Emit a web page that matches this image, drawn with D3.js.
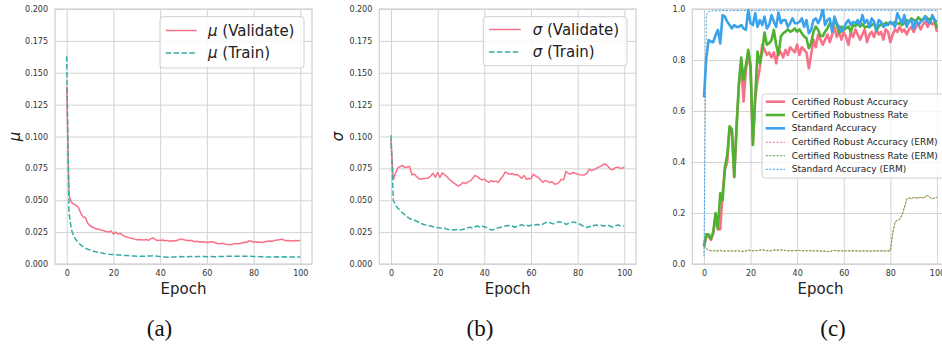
<!DOCTYPE html>
<html>
<head>
<meta charset="utf-8">
<script src="https://cdn.jsdelivr.net/npm/d3@7"></script>
<style>
  body { margin: 0; background: #fff; }
  text { font-family: "DejaVu Sans", sans-serif; }
</style>
</head>
<body>
<svg width="942" height="345"></svg>
<script>
// ---- data ----
const epochs = d3.range(0, 101);
const xTicks = [0, 20, 40, 60, 80, 100];
const smallTicks = [0, 0.025, 0.05, 0.075, 0.1, 0.125, 0.15, 0.175, 0.2];
const accTicks = [0, 0.2, 0.4, 0.6, 0.8, 1.0];

const muValidate = [0.139, 0.054, 0.0485, 0.047, 0.046, 0.0445, 0.040, 0.037, 0.0365, 0.032,
  0.030, 0.029, 0.028, 0.0275, 0.027, 0.0265, 0.026, 0.0255, 0.025, 0.026,
  0.0235, 0.025, 0.0235, 0.024, 0.0225, 0.0215, 0.021, 0.0205, 0.020, 0.0195,
  0.019, 0.0192, 0.019, 0.0188, 0.0192, 0.0185, 0.0198, 0.0205, 0.019, 0.0185,
  0.0187, 0.0188, 0.0182, 0.0185, 0.0178, 0.0183, 0.018, 0.0185, 0.019, 0.0197,
  0.019, 0.0188, 0.0183, 0.0186, 0.018, 0.0175, 0.0178, 0.017, 0.0175, 0.0172,
  0.0168, 0.0172, 0.0175, 0.017, 0.0165, 0.0158, 0.016, 0.0162, 0.0155, 0.0152,
  0.015, 0.0155, 0.016, 0.0158, 0.016, 0.0165, 0.017, 0.0168, 0.0182, 0.0178,
  0.0172, 0.0175, 0.017, 0.0172, 0.0168, 0.0175, 0.0178, 0.018, 0.0178, 0.0185,
  0.0188, 0.019, 0.0195, 0.0188, 0.0182, 0.0185, 0.018, 0.0183, 0.0185, 0.0182, 0.0185];
const muTrain = [0.163, 0.040, 0.027, 0.022, 0.019, 0.0165, 0.015, 0.0135, 0.0125, 0.0115,
  0.011, 0.0103, 0.0098, 0.0093, 0.009, 0.0086, 0.0082, 0.008, 0.0077, 0.0075,
  0.0074, 0.0073, 0.0071, 0.007, 0.0068, 0.0067, 0.0066, 0.0064, 0.0063, 0.0062,
  0.0061, 0.0062, 0.006, 0.006, 0.0061, 0.0063, 0.0062, 0.0064, 0.0062, 0.006,
  0.0059, 0.0057, 0.0055, 0.0053, 0.0052, 0.0052, 0.0054, 0.0056, 0.0057, 0.0058,
  0.0057, 0.0058, 0.0057, 0.0058, 0.0058, 0.0057, 0.0058, 0.0059, 0.0058, 0.0058,
  0.0057, 0.0058, 0.0058, 0.0057, 0.0057, 0.0058, 0.0059, 0.0059, 0.006, 0.006,
  0.0061, 0.006, 0.006, 0.0061, 0.006, 0.0061, 0.006, 0.006, 0.0061, 0.006,
  0.0059, 0.0058, 0.0058, 0.0057, 0.0056, 0.0056, 0.0055, 0.0055, 0.0055, 0.0055,
  0.0056, 0.0055, 0.0055, 0.0056, 0.0055, 0.0055, 0.0054, 0.0055, 0.0054, 0.0054, 0.0054];

const sigmaValidate = [0.0975, 0.066, 0.0715, 0.0755, 0.0765, 0.0772, 0.0755, 0.0762, 0.0765, 0.070,
  0.0705, 0.0685, 0.0668, 0.0665, 0.067, 0.0672, 0.0675, 0.069, 0.0712, 0.068,
  0.0718, 0.068, 0.0715, 0.070, 0.0685, 0.0665, 0.0648, 0.0635, 0.062, 0.0612,
  0.0625, 0.064, 0.063, 0.0645, 0.065, 0.0672, 0.0695, 0.0685, 0.067, 0.066,
  0.0665, 0.065, 0.064, 0.0655, 0.0645, 0.065, 0.064, 0.0668, 0.069, 0.0722,
  0.071, 0.0705, 0.0708, 0.070, 0.0702, 0.069, 0.067, 0.0695, 0.0665, 0.067,
  0.0668, 0.0705, 0.069, 0.068, 0.0665, 0.064, 0.0655, 0.065, 0.0638, 0.0645,
  0.0628, 0.0628, 0.064, 0.0665, 0.066, 0.0728, 0.071, 0.0705, 0.0718, 0.0712,
  0.0705, 0.070, 0.0698, 0.070, 0.0712, 0.0745, 0.0732, 0.074, 0.075, 0.076,
  0.0768, 0.0782, 0.0785, 0.0765, 0.0745, 0.0738, 0.0755, 0.076, 0.0752, 0.075, 0.076];
const sigmaTrain = [0.101, 0.050, 0.046, 0.0437, 0.042, 0.040, 0.0385, 0.037, 0.0355, 0.035,
  0.0345, 0.0335, 0.0328, 0.0318, 0.031, 0.0305, 0.030, 0.0298, 0.0292, 0.0288,
  0.0286, 0.0282, 0.028, 0.0282, 0.0272, 0.027, 0.0268, 0.0266, 0.027, 0.0265,
  0.0268, 0.0272, 0.0278, 0.0285, 0.0288, 0.0282, 0.0292, 0.0298, 0.029, 0.0296,
  0.0292, 0.0285, 0.0275, 0.0266, 0.027, 0.0278, 0.0284, 0.0288, 0.0292, 0.0298,
  0.0302, 0.030, 0.0298, 0.0288, 0.0296, 0.0302, 0.0308, 0.030, 0.0305, 0.0298,
  0.0305, 0.0304, 0.0308, 0.031, 0.0306, 0.0312, 0.0322, 0.033, 0.0325, 0.0318,
  0.0315, 0.0325, 0.0332, 0.0328, 0.0322, 0.031, 0.0318, 0.0322, 0.033, 0.0325,
  0.032, 0.0312, 0.030, 0.0292, 0.0286, 0.0295, 0.029, 0.0302, 0.0306, 0.030,
  0.0304, 0.0298, 0.0302, 0.0306, 0.0296, 0.029, 0.030, 0.0305, 0.0302, 0.0298, 0.0298];

const robustAcc = [0.068, 0.105, 0.110, 0.095, 0.120, 0.190, 0.135, 0.136, 0.277, 0.370,
  0.400, 0.530, 0.520, 0.340, 0.535, 0.700, 0.780, 0.637, 0.760, 0.820,
  0.770, 0.470, 0.650, 0.720, 0.770, 0.860, 0.840, 0.820, 0.830, 0.810,
  0.830, 0.787, 0.840, 0.830, 0.810, 0.840, 0.820, 0.850, 0.840, 0.830,
  0.860, 0.820, 0.850, 0.840, 0.830, 0.767, 0.820, 0.880, 0.850, 0.900,
  0.880, 0.860, 0.880, 0.900, 0.870, 0.900, 0.930, 0.890, 0.910, 0.880,
  0.910, 0.890, 0.860, 0.910, 0.890, 0.920, 0.900, 0.880, 0.900, 0.920,
  0.870, 0.900, 0.910, 0.890, 0.920, 0.900, 0.910, 0.880, 0.920, 0.910,
  0.870, 0.900, 0.920, 0.910, 0.930, 0.910, 0.920, 0.900, 0.920, 0.930,
  0.910, 0.930, 0.940, 0.920, 0.940, 0.950, 0.930, 0.950, 0.940, 0.950, 0.910];
const robustRate = [0.070, 0.116, 0.116, 0.098, 0.127, 0.200, 0.140, 0.277, 0.250, 0.380,
  0.427, 0.540, 0.528, 0.342, 0.540, 0.710, 0.810, 0.720, 0.780, 0.840,
  0.780, 0.467, 0.656, 0.833, 0.787, 0.833, 0.908, 0.860, 0.866, 0.878,
  0.918, 0.860, 0.820, 0.892, 0.905, 0.911, 0.920, 0.911, 0.915, 0.924,
  0.911, 0.920, 0.905, 0.892, 0.885, 0.846, 0.866, 0.911, 0.931, 0.918,
  0.894, 0.894, 0.911, 0.924, 0.944, 0.937, 0.946, 0.941, 0.905, 0.931,
  0.918, 0.924, 0.931, 0.911, 0.937, 0.933, 0.944, 0.931, 0.941, 0.928,
  0.931, 0.928, 0.937, 0.944, 0.915, 0.931, 0.941, 0.937, 0.946, 0.944,
  0.946, 0.941, 0.950, 0.941, 0.946, 0.937, 0.944, 0.957, 0.950, 0.963,
  0.957, 0.950, 0.967, 0.957, 0.959, 0.972, 0.963, 0.957, 0.967, 0.957, 0.924];
const standardAcc = [0.654, 0.806, 0.878, 0.872, 0.870, 0.898, 0.918, 0.865, 0.976, 0.970,
  0.950, 0.937, 0.924, 0.937, 0.930, 0.930, 0.937, 0.924, 0.918, 0.996,
  0.944, 0.937, 0.983, 0.930, 0.957, 0.937, 0.970, 0.924, 0.937, 0.976,
  0.950, 0.930, 0.986, 0.944, 0.957, 0.957, 0.930, 0.944, 0.963, 0.944,
  0.944, 0.950, 0.963, 0.930, 0.957, 0.905, 0.918, 0.957, 0.963, 0.944,
  0.963, 1.000, 0.937, 0.957, 0.963, 0.911, 0.970, 0.944, 0.930, 0.911,
  0.924, 0.944, 0.957, 0.937, 0.950, 0.944, 0.957, 0.937, 0.976, 0.944,
  0.957, 0.930, 0.963, 0.950, 0.918, 0.957, 0.950, 0.930, 0.937, 0.937,
  0.950, 0.944, 0.930, 0.983, 0.963, 0.944, 0.976, 0.930, 0.950, 0.957,
  0.924, 0.957, 0.937, 0.950, 0.957, 0.970, 0.950, 0.944, 0.976, 0.957, 0.950];

const robustAccErm = [0.070, 0.060, 0.053, 0.052, 0.053, 0.051, 0.052, 0.053, 0.050, 0.051,
  0.052, 0.050, 0.051, 0.050, 0.051, 0.052, 0.050, 0.049, 0.051, 0.055,
  0.053, 0.052, 0.051, 0.053, 0.055, 0.056, 0.054, 0.052, 0.051, 0.053,
  0.055, 0.055, 0.054, 0.055, 0.055, 0.053, 0.052, 0.051, 0.052, 0.053,
  0.052, 0.053, 0.052, 0.051, 0.052, 0.053, 0.052, 0.051, 0.052, 0.051,
  0.050, 0.051, 0.050, 0.049, 0.047, 0.053, 0.053, 0.052, 0.051, 0.052,
  0.051, 0.052, 0.051, 0.052, 0.051, 0.052, 0.051, 0.050, 0.051, 0.052,
  0.051, 0.050, 0.051, 0.052, 0.051, 0.052, 0.051, 0.052, 0.051, 0.052,
  0.052, 0.120, 0.165, 0.170, 0.175, 0.190, 0.220, 0.255, 0.260, 0.255,
  0.262, 0.258, 0.260, 0.262, 0.258, 0.265, 0.270, 0.262, 0.255, 0.258, 0.262];
const robustRateErm = [0.072, 0.061, 0.054, 0.052, 0.052, 0.052, 0.051, 0.053, 0.051, 0.051,
  0.052, 0.051, 0.051, 0.050, 0.052, 0.051, 0.050, 0.050, 0.051, 0.054,
  0.053, 0.052, 0.052, 0.053, 0.054, 0.056, 0.054, 0.053, 0.051, 0.052,
  0.055, 0.054, 0.054, 0.055, 0.054, 0.053, 0.052, 0.052, 0.052, 0.053,
  0.053, 0.053, 0.052, 0.052, 0.052, 0.052, 0.052, 0.051, 0.052, 0.052,
  0.051, 0.051, 0.050, 0.050, 0.048, 0.052, 0.053, 0.052, 0.052, 0.052,
  0.051, 0.051, 0.051, 0.052, 0.052, 0.052, 0.051, 0.051, 0.051, 0.052,
  0.051, 0.051, 0.051, 0.051, 0.051, 0.052, 0.052, 0.052, 0.051, 0.051,
  0.052, 0.118, 0.166, 0.171, 0.176, 0.192, 0.222, 0.254, 0.259, 0.256,
  0.261, 0.259, 0.259, 0.261, 0.259, 0.264, 0.268, 0.261, 0.256, 0.259, 0.261];
const standardAccErm = [0.030, 0.975, 0.990, 0.992, 0.993, 0.993, 0.994, 0.993, 0.994, 0.994,
  0.994, 0.993, 0.994, 0.994, 0.994, 0.994, 0.995, 0.994, 0.994, 0.995,
  0.994, 0.995, 0.994, 0.994, 0.995, 0.995, 0.994, 0.995, 0.995, 0.994,
  0.995, 0.995, 0.995, 0.994, 0.995, 0.995, 0.995, 0.995, 0.994, 0.995,
  0.995, 0.995, 0.995, 0.995, 0.995, 0.995, 0.994, 0.995, 0.995, 0.995,
  0.995, 0.995, 0.995, 0.995, 0.995, 0.995, 0.995, 0.995, 0.995, 0.995,
  0.995, 0.995, 0.995, 0.995, 0.995, 0.995, 0.995, 0.995, 0.995, 0.995,
  0.995, 0.995, 0.995, 0.995, 0.995, 0.995, 0.995, 0.995, 0.995, 0.995,
  0.995, 0.995, 0.995, 0.995, 0.995, 0.995, 0.995, 0.995, 0.995, 0.995,
  0.995, 0.995, 0.995, 0.995, 0.995, 0.995, 0.995, 0.995, 0.995, 0.995, 0.995];

// ---- drawing ----
const svg = d3.select("svg");
const pink = "#f77189", teal = "#36ada4", green = "#50b131", blue = "#3ba3ec";
const plotTop = 9, plotBottom = 264;
const gridColor = "#d3d3d3", textColor = "#333";

function makePanel(id, left, right, yDomain, yTicks, yFormat) {
  const x = d3.scaleLinear().domain([-5, 105]).range([left, right]);
  const y = d3.scaleLinear().domain(yDomain).range([plotBottom, plotTop]);
  const g = svg.append("g");

  svg.append("clipPath").attr("id", id)
    .append("rect")
    .attr("x", left).attr("y", plotTop)
    .attr("width", right - left).attr("height", plotBottom - plotTop);

  const xAxis = g.append("g")
    .attr("transform", `translate(0,${plotBottom})`)
    .call(d3.axisBottom(x).tickValues(xTicks).tickSize(-(plotBottom - plotTop)).tickPadding(6.5));
  const yAxis = g.append("g")
    .attr("transform", `translate(${left},0)`)
    .call(d3.axisLeft(y).tickValues(yTicks).tickFormat(d3.format(yFormat))
      .tickSize(-(right - left)).tickPadding(7));
  [xAxis, yAxis].forEach((a) => {
    a.select(".domain").remove();
    a.selectAll("line").attr("stroke", gridColor).attr("stroke-width", 1);
    a.selectAll("text").attr("fill", textColor)
      .style("font-size", "8px").style("font-family", "DejaVu Sans");
  });

  g.append("rect")
    .attr("x", left).attr("y", plotTop)
    .attr("width", right - left).attr("height", plotBottom - plotTop)
    .attr("fill", "none").attr("stroke", gridColor).attr("stroke-width", 1.3);

  g.append("text")
    .attr("x", x(50))
    .attr("y", 294)
    .attr("text-anchor", "middle")
    .attr("fill", "#222")
    .style("font-size", "15px")
    .text("Epoch");

  const plot = g.append("g").attr("clip-path", `url(#${id})`);
  return { g, plot, x, y };
}

function drawLine(p, values, color, width, dash) {
  const line = d3.line().x((d, i) => p.x(epochs[i])).y((d) => p.y(d));
  p.plot.append("path")
    .datum(values)
    .attr("d", line)
    .attr("fill", "none")
    .attr("stroke", color)
    .attr("stroke-width", width)
    .attr("stroke-linejoin", "round")
    .attr("stroke-dasharray", dash || null);
}

function legendBox(g, x, y, w, h) {
  g.append("rect")
    .attr("x", x).attr("y", y).attr("width", w).attr("height", h)
    .attr("rx", 3)
    .attr("fill", "#fff").attr("fill-opacity", 0.8)
    .attr("stroke", "#d0d0d0").attr("stroke-width", 1);
}

function legendItem(g, x1, x2, tx, y, color, width, dash, sym, label, size) {
  g.append("line")
    .attr("x1", x1).attr("x2", x2).attr("y1", y).attr("y2", y)
    .attr("stroke", color).attr("stroke-width", width)
    .attr("stroke-dasharray", dash || null);
  const t = g.append("text")
    .attr("x", tx).attr("y", y).attr("dy", "0.35em")
    .attr("fill", "#222")
    .style("font-size", size + "px");
  if (sym) t.append("tspan").style("font-style", "italic").text(sym);
  t.append("tspan").text(label);
}

function yLabel(g, x, sym) {
  g.append("text")
    .attr("transform", `translate(${x},136.5) rotate(-90)`)
    .attr("text-anchor", "middle")
    .attr("dy", "0.35em")
    .attr("fill", "#222")
    .style("font-size", "15px")
    .style("font-style", "italic")
    .text(sym);
}

function caption(x, label) {
  svg.append("text")
    .attr("x", x).attr("y", 335.5)
    .attr("text-anchor", "middle")
    .attr("fill", "#111")
    .style("font-family", "Liberation Serif, serif")
    .style("font-size", "23px")
    .text(label);
}

// (a) mu
const pa = makePanel("clipA", 55, 312, [0, 0.2], smallTicks, ".3f");
drawLine(pa, muValidate, pink, 1.5);
drawLine(pa, muTrain, teal, 1.5, "5.5,2.4");
yLabel(pa.g, 15, "μ");
legendBox(pa.g, 160, 16.7, 144, 51.3);
legendItem(pa.g, 165.7, 196.7, 208, 30.5, pink, 1.5, null, "μ", " (Validate)", 15);
legendItem(pa.g, 165.7, 196.7, 208, 53, teal, 1.5, "5.5,2.4", "μ", " (Train)", 15);

// (b) sigma
const pb = makePanel("clipB", 379.3, 636, [0, 0.2], smallTicks, ".3f");
drawLine(pb, sigmaValidate, pink, 1.5);
drawLine(pb, sigmaTrain, teal, 1.5, "5.5,2.4");
yLabel(pb.g, 338, "σ");
legendBox(pb.g, 483.3, 16.7, 143.7, 49);
legendItem(pb.g, 489, 520.7, 532.7, 29.5, pink, 1.5, null, "σ", " (Validate)", 15);
legendItem(pb.g, 489, 520.7, 532.7, 52, teal, 1.5, "5.5,2.4", "σ", " (Train)", 15);

// (c) accuracy
const pc = makePanel("clipC", 692.3, 948.6, [0, 1], accTicks, ".1f");
drawLine(pc, robustAcc, pink, 2.6);
drawLine(pc, robustRate, green, 2.6);
drawLine(pc, standardAcc, blue, 2.6);
drawLine(pc, robustAccErm, pink, 1, "2.2,1.4");
drawLine(pc, robustRateErm, green, 1, "2.2,1.4");
drawLine(pc, standardAccErm, blue, 1, "2.2,1.4");
legendBox(pc.g, 762, 94, 200, 84);
const cRows = [101.7, 115, 128.3, 142.3, 155.7, 169.3];
const cLabels = ["Certified Robust Accuracy", "Certified Robustness Rate", "Standard Accuracy",
  "Certified Robust Accuracy (ERM)", "Certified Robustness Rate (ERM)", "Standard Accuracy (ERM)"];
const cColors = [pink, green, blue, pink, green, blue];
cLabels.forEach((lab, i) => {
  const erm = i >= 3;
  legendItem(pc.g, 765.7, 785, 791.7, cRows[i], cColors[i], erm ? 1 : 2.6,
    erm ? "2.2,1.4" : null, null, lab, 9);
});

caption(159.5, "(a)");
caption(480, "(b)");
caption(833, "(c)");
</script>
</body>
</html>
